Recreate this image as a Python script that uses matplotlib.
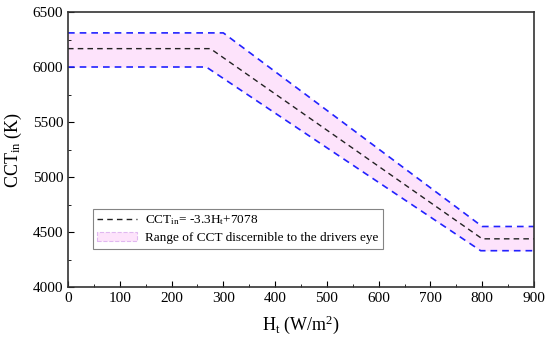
import matplotlib.pyplot as plt
from matplotlib.patches import Patch
from matplotlib.lines import Line2D
from matplotlib.ticker import MultipleLocator

plt.rcParams['font.family'] = ['Liberation Serif', 'DejaVu Serif']
plt.rcParams['mathtext.fontset'] = 'custom'
plt.rcParams['mathtext.rm'] = 'Liberation Serif'
plt.rcParams['mathtext.it'] = 'Liberation Serif'

# centre line CCT_in = -3.3 Ht + 7078, clipped
center_x = [0, 275, 800, 900]
center_y = [6167, 6167, 4438, 4438]

# band edges
upper_x = [0, 300, 800, 900]
upper_y = [6310, 6310, 4550, 4550]
lower_x = [0, 267, 797, 900]
lower_y = [6000, 6000, 4330, 4330]

# common grid for the fill
fill_x = [0, 267, 275, 300, 797, 800, 900]

def interp(xs, ys, x):
    for i in range(len(xs) - 1):
        if xs[i] <= x <= xs[i + 1]:
            t = (x - xs[i]) / (xs[i + 1] - xs[i])
            return ys[i] + t * (ys[i + 1] - ys[i])
    return ys[-1]

fill_up = [interp(upper_x, upper_y, x) for x in fill_x]
fill_lo = [interp(lower_x, lower_y, x) for x in fill_x]

fig = plt.figure(figsize=(5.5, 3.46), dpi=100)
ax = fig.add_axes([68 / 550, 1 - 287 / 346, 466 / 550, 275 / 346])

pink = '#fde3fb'
ax.fill_between(fill_x, fill_lo, fill_up, color=pink, lw=0)
ax.plot(upper_x, upper_y, color='#2222ff', ls=(0, (4, 3)), lw=1.2)
ax.plot(lower_x, lower_y, color='#2222ff', ls=(0, (4, 3)), lw=1.2)
ax.plot(center_x, center_y, color='#222222', ls=(0, (4, 3)), lw=1.0)

ax.set_xlim(0, 900)
ax.set_ylim(4000, 6500)
ax.xaxis.set_major_locator(MultipleLocator(100))
ax.xaxis.set_minor_locator(MultipleLocator(50))
ax.yaxis.set_major_locator(MultipleLocator(500))
ax.yaxis.set_minor_locator(MultipleLocator(250))
ax.tick_params(which='both', direction='in', top=False, right=False, labelsize=11)
ax.tick_params(which='major', length=4)
ax.tick_params(which='minor', length=2.5)
for s in ax.spines.values():
    s.set_linewidth(1.2)
    s.set_color('#333333')

ax.set_xlabel(r'H$_\mathrm{t}$ (W/m$^2$)', fontsize=13, labelpad=6)
ax.set_ylabel(r'CCT$_\mathrm{in}$ (K)', fontsize=13, labelpad=6)

handles = [
    Line2D([], [], color='#222222', ls=(0, (4, 3)), lw=1.0),
    Patch(facecolor=pink, edgecolor='#e0b8f0', ls='--', lw=0.8),
]
labels = [r'CCT$_\mathrm{in}$= -3.3H$_\mathrm{t}$+7078',
          'Range of CCT discernible to the drivers eye']
leg = ax.legend(handles, labels, loc='lower left', bbox_to_anchor=(0.053, 0.14),
                fontsize=9.5, frameon=True, fancybox=False, borderpad=0.35,
                handlelength=3.0, handletextpad=0.6, labelspacing=0.35,
                borderaxespad=0)
leg.get_frame().set_edgecolor('#666666')
leg.get_frame().set_linewidth(0.8)

fig.savefig('out.png', dpi=100)
